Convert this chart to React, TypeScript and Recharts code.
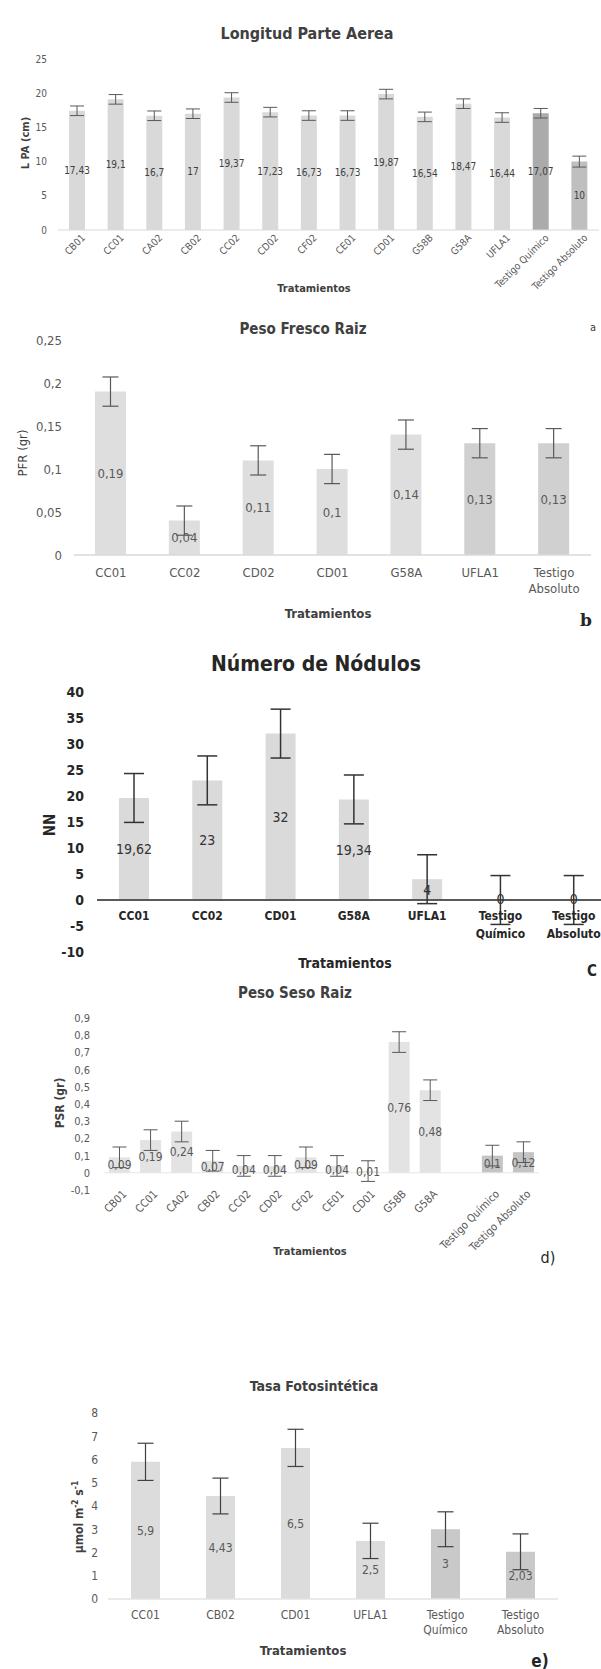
import React from "react";
import { BarChart, Bar, XAxis, YAxis, ErrorBar, LabelList, Cell, ReferenceLine } from "recharts";

const FONT = "'Liberation Sans Narrow', 'Arial Narrow', 'DejaVu Sans Condensed', 'Liberation Sans', sans-serif";

// a) Longitud Parte Aerea
const lpaNames = ["CB01", "CC01", "CA02", "CB02", "CC02", "CD02", "CF02", "CE01", "CD01", "G58B", "G58A", "UFLA1", "Testigo Químico", "Testigo Absoluto"];
const lpaValues = [17.43, 19.1, 16.7, 17, 19.37, 17.23, 16.73, 16.73, 19.87, 16.54, 18.47, 16.44, 17.07, 10];
const lpaErrors = [0.7, 0.7, 0.7, 0.7, 0.7, 0.7, 0.7, 0.7, 0.7, 0.7, 0.7, 0.7, 0.7, 0.8];
const lpaTicks = [0, 5, 10, 15, 20, 25];

// b) Peso Fresco Raiz
const pfrNames = ["CC01", "CC02", "CD02", "CD01", "G58A", "UFLA1", "Testigo Absoluto"];
const pfrValues = [0.19, 0.04, 0.11, 0.1, 0.14, 0.13, 0.13];
const pfrErrors = [0.017, 0.017, 0.017, 0.017, 0.017, 0.017, 0.017];
const pfrTicks = [0, 0.05, 0.1, 0.15, 0.2, 0.25];

// c) Número de Nódulos
const nnNames = ["CC01", "CC02", "CD01", "G58A", "UFLA1", "Testigo Químico", "Testigo Absoluto"];
const nnValues = [19.62, 23, 32, 19.34, 4, 0, 0];
const nnErrors = [4.7, 4.7, 4.7, 4.7, 4.7, 4.7, 4.7];
const nnTicks = [-10, -5, 0, 5, 10, 15, 20, 25, 30, 35, 40];

// d) Peso Seso Raiz (one empty slot before the controls)
const psrNames = ["CB01", "CC01", "CA02", "CB02", "CC02", "CD02", "CF02", "CE01", "CD01", "G58B", "G58A", "", "Testigo Químico", "Testigo Absoluto"];
const psrValues = [0.09, 0.19, 0.24, 0.07, 0.04, 0.04, 0.09, 0.04, 0.01, 0.76, 0.48, null, 0.1, 0.12];
const psrErrors = [0.06, 0.06, 0.06, 0.06, 0.06, 0.06, 0.06, 0.06, 0.06, 0.06, 0.06, null, 0.06, 0.06];
const psrTicks = [-0.1, 0, 0.1, 0.2, 0.3, 0.4, 0.5, 0.6, 0.7, 0.8, 0.9];

// e) Tasa Fotosintética
const tfNames = ["CC01", "CB02", "CD01", "UFLA1", "Testigo Químico", "Testigo Absoluto"];
const tfValues = [5.9, 4.43, 6.5, 2.5, 3, 2.03];
const tfErrors = [0.8, 0.77, 0.8, 0.76, 0.75, 0.77];
const tfTicks = [0, 1, 2, 3, 4, 5, 6, 7, 8];

const build = (names: string[], values: (number | null)[], errors: (number | null)[]) =>
  names.map((name, i) => ({ name, value: values[i], err: errors[i] }));

const fmt = (v: any) => (v === null || v === undefined || v === "" ? "" : String(v).replace(".", ","));

function Txt({ x, y, size, bold, color = "#404040", rotate, family, children }: any) {
  return (
    <div
      style={{
        position: "absolute",
        left: x,
        top: y,
        transform: `translate(-50%, -50%)${rotate ? " rotate(-90deg)" : ""}`,
        fontSize: size,
        fontWeight: bold ? 700 : 400,
        color,
        whiteSpace: "nowrap",
        fontFamily: family ?? FONT,
        lineHeight: 1,
      }}
    >
      {children}
    </div>
  );
}

function RotTick({ x, y, payload, fontSize, fill, shift }: any) {
  const tx = x + shift;
  return (
    <text
      x={tx}
      y={y}
      transform={`rotate(-45 ${tx} ${y})`}
      textAnchor="end"
      dy="0.35em"
      fontSize={fontSize}
      fill={fill}
      fontFamily={FONT}
    >
      {payload.value}
    </text>
  );
}

function WrapTick({ x, y, payload, fontSize, fill, lineHeight, bold }: any) {
  const lines = String(payload.value).split(" ");
  return (
    <text x={x} y={y} textAnchor="middle" fontSize={fontSize} fill={fill} fontFamily={FONT} fontWeight={bold ? 700 : 400}>
      {lines.map((l, i) => (
        <tspan key={i} x={x} dy={i === 0 ? "0.71em" : lineHeight}>
          {l}
        </tspan>
      ))}
    </text>
  );
}

// category names drawn under each bar's base (axis sits at zero, not at the plot bottom)
function BaseName(props: any) {
  const vb = props.viewBox ?? props;
  const cx = vb.x + vb.width / 2;
  const base = Math.max(vb.y, vb.y + vb.height);
  const lines = String(props.value).split(" ");
  return (
    <text x={cx} y={base + 11} textAnchor="middle" fontSize={12} fill="#262626" fontFamily={FONT} fontWeight={700}>
      {lines.map((l, i) => (
        <tspan key={i} x={cx} dy={i === 0 ? "0.71em" : 18}>
          {l}
        </tspan>
      ))}
    </text>
  );
}

const lpaData = build(lpaNames, lpaValues, lpaErrors);
const pfrData = build(pfrNames, pfrValues, pfrErrors);
const nnData = build(nnNames, nnValues, nnErrors);
const psrData = build(psrNames, psrValues, psrErrors);
const tfData = build(tfNames, tfValues, tfErrors);

export default function App() {
  return (
    <div style={{ position: "absolute", left: 0, top: 0, width: 601, height: 1669, overflow: "hidden", background: "#fff", fontFamily: FONT }}>
      {/* a */}
      <Txt x={307} y={34} size={16} bold>Longitud Parte Aerea</Txt>
      <Txt x={25} y={143} size={11} bold rotate>L PA (cm)</Txt>
      <Txt x={314} y={288} size={11} bold>Tratamientos</Txt>
      <Txt x={593} y={327} size={11}>a</Txt>
      <div style={{ position: "absolute", left: 0, top: 0 }}>
        <BarChart width={601} height={310} data={lpaData} margin={{ top: 59, right: 2, bottom: 0, left: 8 }}>
          <XAxis
            dataKey="name"
            interval={0}
            height={80}
            tickSize={0}
            tickMargin={6}
            axisLine={{ stroke: "#d9d9d9" }}
            tickLine={false}
            tick={(p: any) => <RotTick {...p} fontSize={10} fill="#595959" shift={6} />}
          />
          <YAxis
            type="number"
            domain={[0, 25]}
            ticks={lpaTicks}
            interval={0}
            width={50}
            tickMargin={5}
            axisLine={false}
            tickLine={false}
            tick={{ fill: "#595959", fontSize: 10, fontFamily: FONT }}
          />
          <Bar dataKey="value" barSize={16} isAnimationActive={false}>
            {lpaData.map((d) => (
              <Cell key={d.name} fill={d.name === "Testigo Químico" ? "#ababab" : d.name === "Testigo Absoluto" ? "#bfbfbf" : "#d9d9d9"} />
            ))}
            <ErrorBar dataKey="err" direction="y" width={7} stroke="#595959" strokeWidth={1} />
            <LabelList dataKey="value" position="center" formatter={fmt} fill="#404040" fontSize={10} fontFamily={FONT} />
          </Bar>
        </BarChart>
      </div>

      {/* b */}
      <Txt x={303} y={329} size={15} bold>Peso Fresco Raiz</Txt>
      <Txt x={22} y={453} size={13} rotate>PFR (gr)</Txt>
      <Txt x={328} y={613} size={13} bold>Tratamientos</Txt>
      <Txt x={586} y={620} size={17} bold color="#262626" family="'DejaVu Serif', 'Liberation Serif', serif">b</Txt>
      <div style={{ position: "absolute", left: 0, top: 300 }}>
        <BarChart width={601} height={295} data={pfrData} margin={{ top: 40, right: 10, bottom: 0, left: 14 }}>
          <XAxis
            dataKey="name"
            interval={0}
            height={40}
            tickSize={0}
            tickMargin={13}
            axisLine={{ stroke: "#d9d9d9", strokeWidth: 1.5 }}
            tickLine={false}
            tick={(p: any) => <WrapTick {...p} fontSize={13} fill="#595959" lineHeight={16} />}
          />
          <YAxis
            type="number"
            domain={[0, 0.25]}
            ticks={pfrTicks}
            interval={0}
            width={60}
            tickMargin={6}
            tickFormatter={fmt}
            axisLine={false}
            tickLine={false}
            tick={{ fill: "#595959", fontSize: 13, fontFamily: FONT }}
          />
          <Bar dataKey="value" barSize={31} isAnimationActive={false}>
            {pfrData.map((d) => (
              <Cell key={d.name} fill={d.name === "UFLA1" || d.name === "Testigo Absoluto" ? "#d0d0d0" : "#dedede"} />
            ))}
            <ErrorBar dataKey="err" direction="y" width={8} stroke="#595959" strokeWidth={1.2} />
            <LabelList dataKey="value" position="center" formatter={fmt} fill="#595959" fontSize={13} fontFamily={FONT} />
          </Bar>
        </BarChart>
      </div>

      {/* c */}
      <Txt x={316} y={664} size={21} bold color="#262626">Número de Nódulos</Txt>
      <Txt x={50} y={825} size={15} bold rotate color="#262626">NN</Txt>
      <Txt x={345} y={963} size={14} bold color="#262626">Tratamientos</Txt>
      <Txt x={592} y={971} size={15} bold color="#262626">C</Txt>
      <div style={{ position: "absolute", left: 0, top: 640 }}>
        <BarChart width={620} height={327} data={nnData} margin={{ top: 52, right: 10, bottom: 15, left: 17 }}>
          <XAxis dataKey="name" hide />
          <YAxis
            type="number"
            domain={[-10, 40]}
            ticks={nnTicks}
            interval={0}
            width={80}
            tickMargin={7}
            axisLine={false}
            tickLine={false}
            tick={{ fill: "#262626", fontSize: 14, fontFamily: FONT, fontWeight: 700 }}
          />
          <ReferenceLine y={0} stroke="#595959" strokeWidth={1.8} />
          <Bar dataKey="value" barSize={30} fill="#dadada" minPointSize={1} isAnimationActive={false}>
            <ErrorBar dataKey="err" direction="y" width={10} stroke="#333333" strokeWidth={1.5} />
            <LabelList dataKey="value" position="center" formatter={fmt} fill="#333333" fontSize={14} fontFamily={FONT} />
            <LabelList dataKey="name" content={BaseName} />
          </Bar>
        </BarChart>
      </div>

      {/* d */}
      <Txt x={295} y={993} size={15} bold>Peso Seso Raiz</Txt>
      <Txt x={60} y={1103} size={12} bold rotate>PSR (gr)</Txt>
      <Txt x={310} y={1251} size={11} bold>Tratamientos</Txt>
      <Txt x={548} y={1258} size={16} color="#262626">d)</Txt>
      <div style={{ position: "absolute", left: 0, top: 990 }}>
        <BarChart width={601} height={285} data={psrData} margin={{ top: 28, right: 62, bottom: 0, left: 14 }}>
          <XAxis
            dataKey="name"
            interval={0}
            height={85}
            tickSize={0}
            tickMargin={2}
            axisLine={false}
            tickLine={false}
            tick={(p: any) => <RotTick {...p} fontSize={11} fill="#595959" shift={5} />}
          />
          <YAxis
            type="number"
            domain={[-0.1, 0.9]}
            ticks={psrTicks}
            interval={0}
            width={90}
            tickMargin={8}
            tickFormatter={fmt}
            axisLine={false}
            tickLine={false}
            tick={{ fill: "#595959", fontSize: 11, fontFamily: FONT }}
          />
          <ReferenceLine y={0} stroke="#e6e6e6" strokeWidth={1} />
          <Bar dataKey="value" barSize={21} isAnimationActive={false}>
            {psrData.map((d, i) => (
              <Cell key={i} fill={d.name.startsWith("Testigo") ? "#c4c4c4" : "#e3e3e3"} />
            ))}
            <ErrorBar dataKey="err" direction="y" width={7} stroke="#595959" strokeWidth={1} />
            <LabelList dataKey="value" position="center" formatter={fmt} fill="#595959" fontSize={12} fontFamily={FONT} />
          </Bar>
        </BarChart>
      </div>

      {/* e */}
      <Txt x={314} y={1386} size={14} bold>Tasa Fotosintética</Txt>
      <Txt x={78} y={1517} size={12} bold rotate>
        µmol m<sup style={{ fontSize: "0.7em" }}>-2</sup> s<sup style={{ fontSize: "0.7em" }}>-1</sup>
      </Txt>
      <Txt x={303} y={1650} size={13} bold>Tratamientos</Txt>
      <Txt x={540} y={1661} size={17} bold color="#262626">e)</Txt>
      <div style={{ position: "absolute", left: 0, top: 1375 }}>
        <BarChart width={601} height={264} data={tfData} margin={{ top: 38, right: 43, bottom: 0, left: 18 }}>
          <XAxis
            dataKey="name"
            interval={0}
            height={40}
            tickSize={0}
            tickMargin={11}
            axisLine={{ stroke: "#e3e3e3", strokeWidth: 1.5 }}
            tickLine={false}
            tick={(p: any) => <WrapTick {...p} fontSize={12} fill="#595959" lineHeight={15} />}
          />
          <YAxis
            type="number"
            domain={[0, 8]}
            ticks={tfTicks}
            interval={0}
            width={90}
            tickMargin={4}
            axisLine={false}
            tickLine={false}
            tick={{ fill: "#595959", fontSize: 12, fontFamily: FONT }}
          />
          <Bar dataKey="value" barSize={29} isAnimationActive={false}>
            {tfData.map((d) => (
              <Cell key={d.name} fill={d.name.startsWith("Testigo") ? "#c9c9c9" : "#dcdcdc"} />
            ))}
            <ErrorBar dataKey="err" direction="y" width={8} stroke="#404040" strokeWidth={1.2} />
            <LabelList dataKey="value" position="center" formatter={fmt} fill="#595959" fontSize={12} fontFamily={FONT} />
          </Bar>
        </BarChart>
      </div>
    </div>
  );
}
